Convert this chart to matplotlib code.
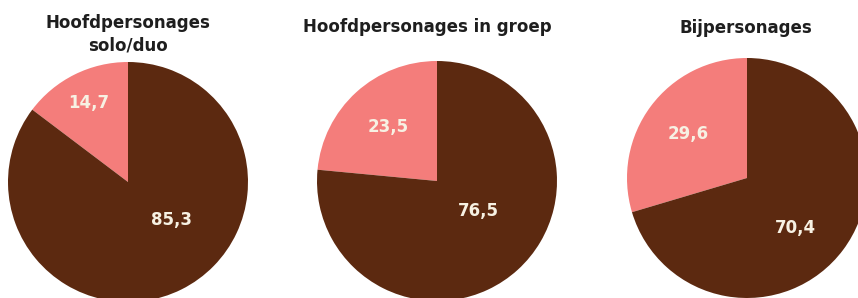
import matplotlib.pyplot as plt
import numpy as np

# data
titles = ['Hoofdpersonages\nsolo/duo', 'Hoofdpersonages in groep', 'Bijpersonages']
pink_share = [14.7, 23.5, 29.6]
brown_share = [85.3, 76.5, 70.4]

pink = '#f47d7b'
brown = '#5c2910'
label_color = '#f7f1e3'

W, H = 858, 298
fig = plt.figure(figsize=(W / 100, H / 100), dpi=100)

# pie centres (px from left/top) and radius
centres = [(128, 182), (437, 181), (747, 178)]
radius = 120
pink_r = [0.74, 0.61, 0.61]
brown_pos = [(-41, 0.48), (-36, 0.43), (-46, 0.58)]
title_x = [128, 427, 746]
title_y = [34, 27, 28]

for i in range(3):
    cx, cy = centres[i]
    ax = fig.add_axes([(cx - radius) / W, (H - cy - radius) / H,
                       2 * radius / W, 2 * radius / H])
    ax.pie([pink_share[i], brown_share[i]], colors=[pink, brown],
           startangle=90, counterclock=True, radius=1,
           wedgeprops=dict(linewidth=0))
    ax.set_xlim(-1, 1)
    ax.set_ylim(-1, 1)
    ax.set_aspect('equal')
    ax.axis('off')

    # pink label in the middle of its wedge
    mid = np.deg2rad(90 + pink_share[i] / 100 * 360 / 2)
    ax.text(pink_r[i] * np.cos(mid), pink_r[i] * np.sin(mid),
            f'{pink_share[i]:.1f}'.replace('.', ','),
            ha='center', va='center', color=label_color,
            fontsize=12, fontweight='bold', family='DejaVu Sans')
    ang, r = brown_pos[i]
    a = np.deg2rad(ang)
    ax.text(r * np.cos(a), r * np.sin(a),
            f'{brown_share[i]:.1f}'.replace('.', ','),
            ha='center', va='center', color=label_color,
            fontsize=12, fontweight='bold', family='DejaVu Sans')

    fig.text(title_x[i] / W, 1 - title_y[i] / H, titles[i],
             ha='center', va='center', fontsize=12, fontweight='bold',
             family='DejaVu Sans', color='#1e1e1e', linespacing=1.35)

fig.savefig('out.png', dpi=100, facecolor='white')
